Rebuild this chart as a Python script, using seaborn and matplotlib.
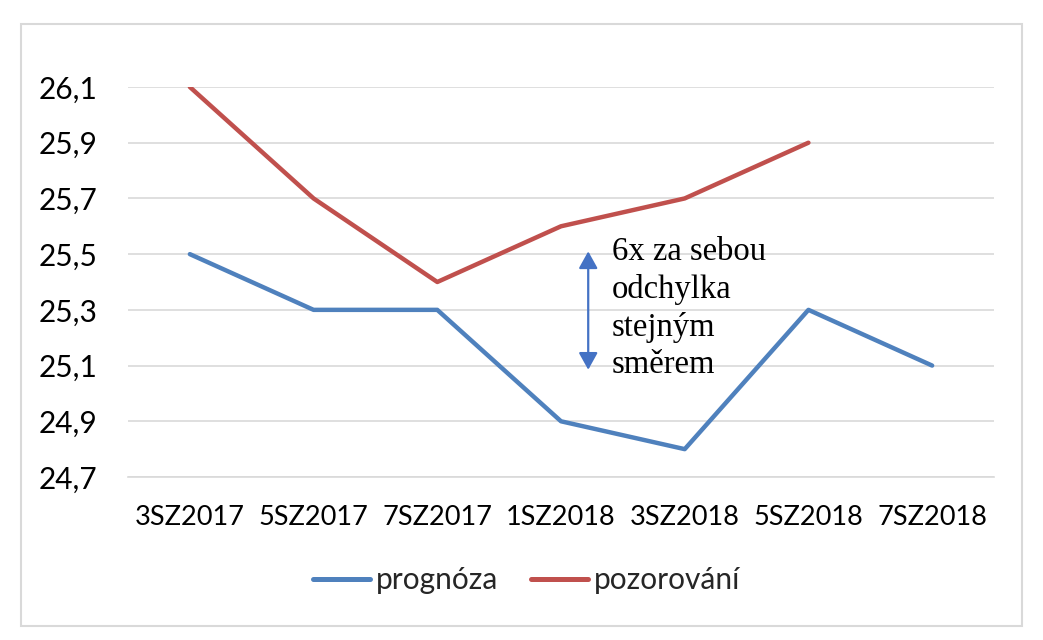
import matplotlib
matplotlib.use("Agg")
import matplotlib.pyplot as plt
import seaborn as sns
import pandas as pd
import numpy as np
from matplotlib.patches import Rectangle

categories = ["3SZ2017", "5SZ2017", "7SZ2017", "1SZ2018", "3SZ2018", "5SZ2018", "7SZ2018"]
prognoza = [25.5, 25.3, 25.3, 24.9, 24.8, 25.3, 25.1]
pozorovani = [26.1, 25.7, 25.4, 25.6, 25.7, 25.9, np.nan]
y_ticks = [24.7, 24.9, 25.1, 25.3, 25.5, 25.7, 25.9, 26.1]
series_names = ["prognóza", "pozorování"]
colors = ["#4F81BD", "#C0504D"]
note = "6x za sebou\nodchylka\nstejným\nsměrem"

sns.set_theme(style="white")
plt.rcParams["font.family"] = ["Lato", "DejaVu Sans"]

df = pd.DataFrame({
    "kat": categories * 2,
    "hodnota": prognoza + pozorovani,
    "serie": [series_names[0]] * len(categories) + [series_names[1]] * len(categories),
})
df = df.dropna()

fig = plt.figure(figsize=(10.43, 6.4), dpi=100)
ax = fig.add_axes([128 / 1043, 1 - 477 / 640, (994 - 128) / 1043, (477 - 87) / 640])

sns.lineplot(data=df, x="kat", y="hodnota", hue="serie", palette=colors,
             hue_order=series_names, sort=False, lw=3.2, ax=ax, legend=True)

ax.set_xlim(-0.5, len(categories) - 0.5)
ax.set_ylim(24.7, 26.1)
ax.set_yticks(y_ticks)
ax.set_yticklabels([f"{v:.1f}".replace(".", ",") for v in y_ticks])
ax.grid(axis="y", color="#D9D9D9", lw=1.2)
ax.set_axisbelow(True)
for s in ["left", "right", "top"]:
    ax.spines[s].set_visible(False)
ax.spines["bottom"].set_color("#D9D9D9")
ax.spines["bottom"].set_linewidth(1.2)
ax.tick_params(axis="both", length=0, colors="black")
ax.tick_params(axis="y", labelsize=21.5, pad=22)
ax.tick_params(axis="x", labelsize=19.5, pad=20)
ax.set_xlabel("")
ax.set_ylabel("")

# annotation arrow between series
ax.annotate("", xy=(3.22, 25.085), xytext=(3.22, 25.51),
            arrowprops=dict(arrowstyle="<|-|>,head_length=0.9,head_width=0.5", color="#4472C4", lw=1.6,
                            mutation_scale=11.5, shrinkA=0, shrinkB=0))
ax.text(3.41, 25.565, note, family=["Liberation Serif", "DejaVu Serif"], fontsize=23.5,
        va="top", ha="left", linespacing=1.3, color="black")

leg = ax.legend(loc="center", bbox_to_anchor=(0.505, (640 - 580) / 640), bbox_transform=fig.transFigure,
                ncol=2, frameon=False, fontsize=21.5, handlelength=1.9, columnspacing=1.1,
                handletextpad=0.2)
for line in leg.get_lines():
    line.set_linewidth(3.6)

fig.add_artist(Rectangle((21 / 1043, 1 - 626 / 640), (1022 - 21) / 1043, (626 - 24) / 640,
                         transform=fig.transFigure, fill=False, edgecolor="#D9D9D9", lw=1.5))

fig.savefig("out.png", dpi=100, facecolor="white")
